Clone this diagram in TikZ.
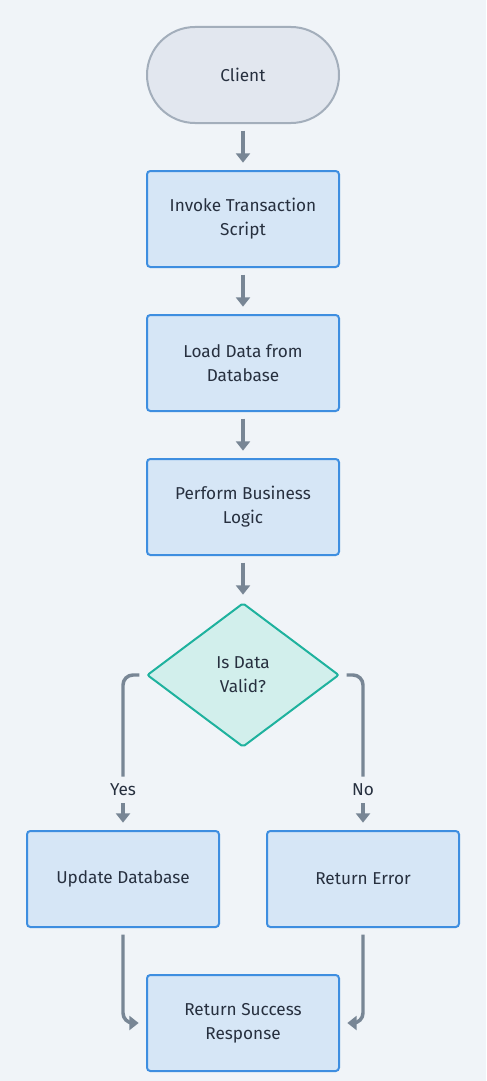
\documentclass[tikz,border=0pt]{standalone}
\usepackage{fontspec}
\setmainfont{Fira Sans}
\usepackage{tikz}
\usepackage{xcolor}
\usetikzlibrary{
    arrows.meta,
    shapes,
    shapes.geometric,
    calc,
    positioning
}
\definecolor{bgcol}{HTML}{F0F4F8}
\definecolor{txtcol}{HTML}{27303F}
\definecolor{arrcol}{HTML}{788695}
\definecolor{boxfill}{HTML}{D6E6F6}
\definecolor{boxline}{HTML}{3E8EE0}
\definecolor{endfill}{HTML}{E2E7EF}
\definecolor{endline}{HTML}{A3AEBB}
\definecolor{decfill}{HTML}{D2EFEC}
\definecolor{decline}{HTML}{1FB29E}
\tikzset{
    stepbox/.style={rectangle, draw=boxline, fill=boxfill, line width=1.5pt,
        rounded corners=2.5pt, minimum width=144pt, minimum height=72pt,
        align=center, text=txtcol, font=\fontsize{12.9}{18}\selectfont},
    endbox/.style={stepbox, draw=endline, fill=endfill, rounded corners=36pt},
    decbox/.style={diamond, draw=decline, fill=decfill, line width=1.5pt,
        rounded corners=1.5pt, minimum width=144pt, minimum height=108pt,
        inner sep=0pt, align=center, text=txtcol, font=\fontsize{12.9}{18}\selectfont},
    lbl/.style={text=txtcol, font=\fontsize{12.9}{18}\selectfont, inner sep=0pt,
        minimum height=19.5pt},
    flow/.style={draw=arrcol, line width=2.6pt, rounded corners=7.5pt,
        -{Triangle[length=7pt, width=10.5pt]}, shorten <=5pt, shorten >=5.5pt},
    line/.style={draw=arrcol, line width=2.6pt, rounded corners=7.5pt, shorten <=5pt}
}

\begin{document}
\begin{tikzpicture}[x=0.75pt, y=-0.75pt]
    \fill[bgcol] (0, 0) rectangle (486, 1081);
    \useasboundingbox (0, 0) rectangle (486, 1081);

    \node[endbox] (client) at (243, 75) {Client};
    \node[stepbox] (invoke) at (243, 219) {Invoke Transaction\\Script};
    \node[stepbox] (load) at (243, 363) {Load Data from\\Database};
    \node[stepbox] (logic) at (243, 507) {Perform Business\\Logic};
    \node[decbox] (valid) at (243, 675) {Is Data\\Valid?};
    \node[stepbox] (update) at (123, 879) {Update Database};
    \node[stepbox] (error) at (363, 879) {Return Error};
    \node[stepbox] (success) at (243, 1023) {Return Success\\Response};

    \node[lbl] (yes) at (123, 790) {Yes};
    \node[lbl] (no) at (363, 790) {No};

    \path[flow] (client) -- (invoke);
    \path[flow] (invoke) -- (load);
    \path[flow] (load) -- (logic);
    \path[flow] (logic) -- (valid);

    \path[line] (valid.west) -| (yes.north);
    \path[flow, shorten <=0pt] (yes.south) -- (update.north);
    \path[line] (valid.east) -| (no.north);
    \path[flow, shorten <=0pt] (no.south) -- (error.north);

    \path[flow] (update.south) |- (success.west);
    \path[flow] (error.south) |- (success.east);
\end{tikzpicture}
\end{document}
